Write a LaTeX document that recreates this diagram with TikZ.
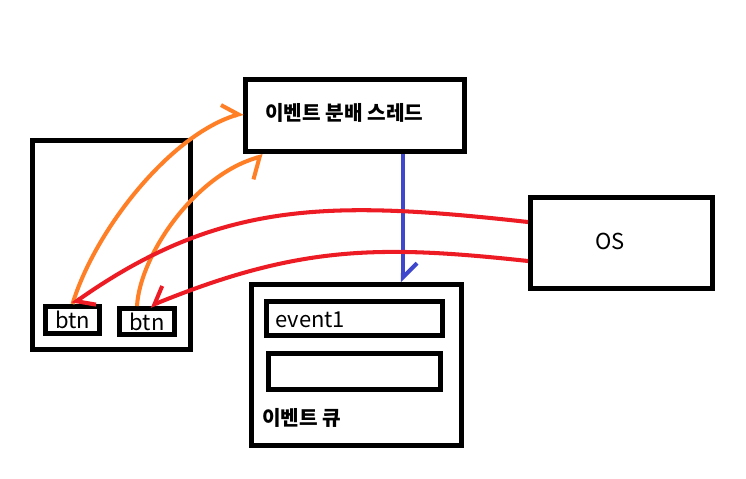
\documentclass[tikz,border=0pt]{standalone}
\usepackage{fontspec}
\setmainfont{Noto Sans CJK KR}
\usetikzlibrary{arrows.meta,calc}
\definecolor{paintred}{HTML}{ED1C24}
\definecolor{paintorange}{HTML}{FF7F27}
\definecolor{paintblue}{HTML}{3F48CC}

\begin{document}
\begin{tikzpicture}[x=0.02cm,y=-0.02cm,
  box/.style={draw,line width=2.8pt,inner sep=0pt},
  lat/.style={font=\fontsize{12.5}{14}\selectfont,inner sep=0pt},
  kor/.style={font=\fontsize{11.5}{13}\selectfont\bfseries,inner sep=0pt},
  wire/.style={line width=2.3pt},
  tipl/.style={-{Straight Barb[harpoon,length=2.8mm,width=5.6mm]}},
  tipr/.style={-{Straight Barb[harpoon,swap,length=2.8mm,width=5.6mm]}}]
\useasboundingbox (0,0) rectangle (746,478);

% window with two buttons
\node[box,minimum width=3.16cm,minimum height=4.18cm] (win) at (111.5,245) {};
\node[box,lat,minimum width=1.08cm,minimum height=0.54cm] (btna) at (72.5,320) {btn};
\node[box,lat,minimum width=1.10cm,minimum height=0.52cm] (btnb) at (147,321.5) {btn};

% dispatch thread, OS and queue
\node[box,minimum width=4.38cm,minimum height=1.44cm] (thread) at (355,115.5) {};
\node[kor,anchor=base west] (threadlabel) at (265,120) {이벤트 분배 스레드};
\node[box,minimum width=3.64cm,minimum height=1.82cm] (os) at (621.5,243) {};
\node[lat,anchor=base] (oslabel) at (610,249) {OS};
\node[box,minimum width=4.2cm,minimum height=3.22cm] (queue) at (356.5,365) {};
\node[box,minimum width=3.52cm,minimum height=0.68cm] (eva) at (354.5,318.5) {};
\node[lat,anchor=base west] (evalabel) at (275,327) {event1};
\node[box,minimum width=3.44cm,minimum height=0.72cm] (evb) at (354.5,371.5) {};
\node[kor,anchor=base west] (queuelabel) at (262,425) {이벤트 큐};

% connectors
\draw[wire,paintblue,tipl] ($(thread.south)+(48,0)$) coordinate (drop) -- (drop |- queue.north);
\draw[wire,paintorange,tipl] (btna.north) .. controls (95,230) and (170,135) .. ($(thread.west)+(0,-2.5)$);
\draw[wire,paintorange,-{Straight Barb[harpoon,swap,length=2.4mm,width=8mm]}] ($(btnb.north)+(-10,0)$) .. controls (140,255) and (195,175) .. ($(thread.south west)+(20,2)$);
\draw[wire,paintred,tipl] ($(os.west)+(0,-21)$) .. controls (330,200) and (220,200) .. (btna.north);
\draw[wire,paintred,tipr] ($(os.west)+(0,18)$) .. controls (380,245) and (300,245) .. ($(btnb.north)+(3,0)$);
\end{tikzpicture}
\end{document}
